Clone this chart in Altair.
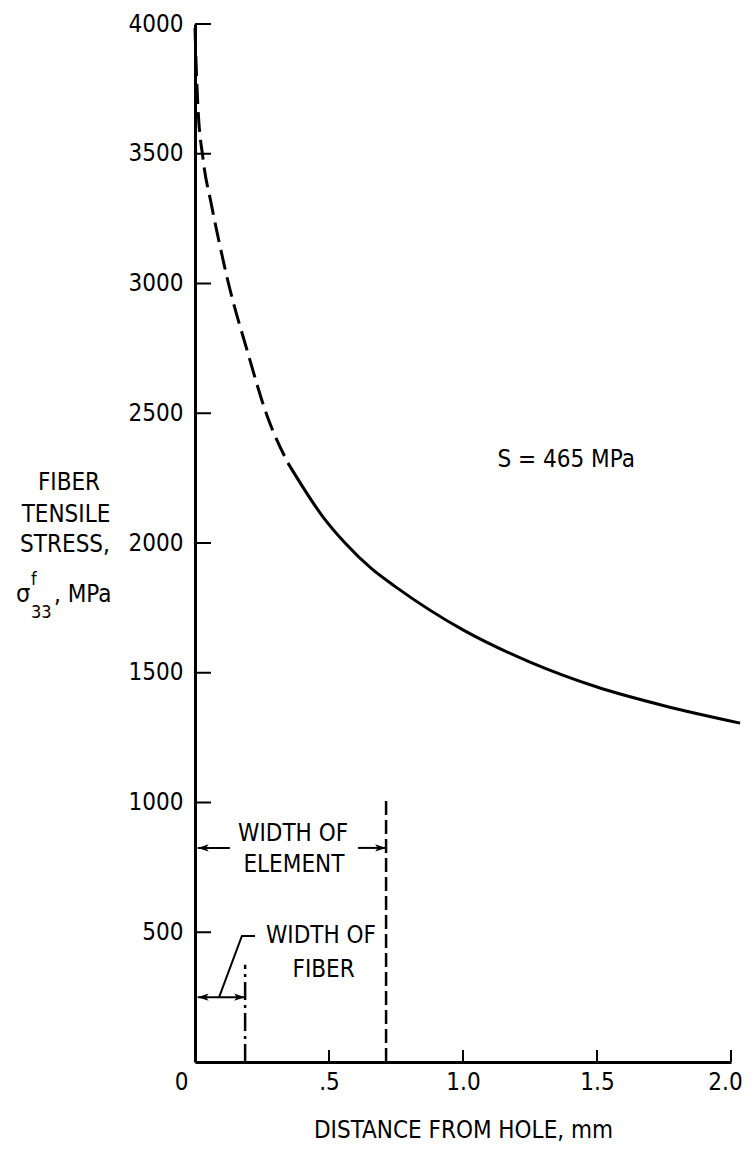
import altair as alt
import pandas as pd

# ---- data ----
dash_x = [0.0, 0.004, 0.01, 0.03, 0.06, 0.09, 0.125, 0.194, 0.269, 0.347]
dash_y = [3985, 3850, 3700, 3480, 3310, 3160, 3000, 2744, 2490, 2308]
solid_x = [0.347, 0.478, 0.56, 0.66, 0.75, 1.0, 1.25, 1.5, 1.75, 2.034]
solid_y = [2308, 2100, 2000, 1900, 1830, 1665, 1541, 1445, 1373, 1306]

x_label_values = [0, 0.5, 1.0, 1.5, 2.0]
x_tick_values = [0.5, 1.0, 1.5, 2.0]
y_tick_values = [500, 1000, 1500, 2000, 2500, 3000, 3500, 4000]

fiber_width = 0.187
element_width = 0.713
fiber_line_top = 375
element_line_top = 1020
element_arrow_level = 825
fiber_arrow_level = 250

FONT = "Liberation Sans Narrow, DejaVu Sans Condensed, Liberation Sans, sans-serif"
FS = 24

xscale = alt.Scale(domain=[0, 2.0], nice=False, zero=False)
yscale = alt.Scale(domain=[0, 4000], nice=False)

xaxis = alt.Axis(
    values=x_label_values,
    labelExpr="datum.value == 0 ? '0' : datum.value == 0.5 ? '.5' : format(datum.value, '.1f')",
    ticks=False, grid=False, domainColor="black", domainWidth=3,
    labelFont=FONT, labelFontSize=FS, labelColor="black", labelPadding=8,
    labelFlush=False, labelOverlap=False, labelBound=False,
    labelOffset={"condition": [{"test": "datum.value == 0", "value": -14},
                               {"test": "datum.value == 2", "value": -6}], "value": 0},
    title="DISTANCE FROM HOLE,  mm", titleFont=FONT, titleFontSize=FS,
    titleFontWeight="normal", titleColor="black", titlePadding=24,
)
yaxis = alt.Axis(
    values=y_tick_values, format="d", ticks=False, grid=False,
    domainColor="black", domainWidth=3,
    labelFont=FONT, labelFontSize=FS, labelColor="black", labelPadding=12,
    labelFlush=False, labelOverlap=False, title=None,
)

X = alt.X("x:Q", scale=xscale, axis=xaxis)
Y = alt.Y("y:Q", scale=yscale, axis=yaxis)

df_dash = pd.DataFrame({"x": dash_x, "y": dash_y})
df_solid = pd.DataFrame({"x": solid_x, "y": solid_y})
df_xt = pd.DataFrame({"x": x_tick_values})
df_yt = pd.DataFrame({"y": y_tick_values})
one = pd.DataFrame({"a": [0]})

curve_dash = alt.Chart(df_dash).mark_line(
    color="black", strokeWidth=3, strokeDash=[20, 8], interpolate="monotone", strokeCap="butt"
).encode(x=X, y=Y)
curve_solid = alt.Chart(df_solid).mark_line(
    color="black", strokeWidth=3, interpolate="monotone"
).encode(x=X, y=Y)

ytick_rules = alt.Chart(df_yt).mark_rule(color="black", strokeWidth=2).encode(
    y=Y, x=alt.value(0), x2=alt.value(16)
)
xtick_rules = alt.Chart(df_xt).mark_rule(color="black", strokeWidth=2).encode(
    x=X, y=alt.value(1038), y2=alt.value(1026)
)

fiber_line = alt.Chart(one).mark_rule(
    color="black", strokeWidth=2.5, strokeDash=[18, 5, 3, 5]
).encode(x=alt.datum(fiber_width), y=alt.datum(0), y2=alt.datum(fiber_line_top))
element_line = alt.Chart(one).mark_rule(
    color="black", strokeWidth=2.5, strokeDash=[14, 5]
).encode(x=alt.datum(element_width), y=alt.datum(0), y2=alt.datum(element_line_top))

# arrows
elem_left = alt.Chart(one).mark_rule(color="black", strokeWidth=2).encode(
    x=alt.datum(0.01), x2=alt.datum(0.13), y=alt.datum(element_arrow_level))
elem_right = alt.Chart(one).mark_rule(color="black", strokeWidth=2).encode(
    x=alt.datum(0.608), x2=alt.datum(element_width), y=alt.datum(element_arrow_level))
fiber_arrow = alt.Chart(one).mark_rule(color="black", strokeWidth=2).encode(
    x=alt.datum(0.01), x2=alt.datum(fiber_width), y=alt.datum(fiber_arrow_level))

LEFT_HEAD = "M0,0 L1,-0.33 L0.75,0 L1,0.33 Z"
RIGHT_HEAD = "M0,0 L-1,-0.33 L-0.75,0 L-1,0.33 Z"

def head(shape, xv, yv):
    return alt.Chart(one).mark_point(
        shape=shape, filled=True, size=484, color="black", opacity=1, strokeWidth=0
    ).encode(x=alt.datum(xv), y=alt.datum(yv))

heads = [
    head(LEFT_HEAD, 0.01, element_arrow_level),
    head(RIGHT_HEAD, element_width, element_arrow_level),
    head(LEFT_HEAD, 0.01, fiber_arrow_level),
    head(RIGHT_HEAD, fiber_width, fiber_arrow_level),
]

leader_df = pd.DataFrame({"x": [0.09, 0.175, 0.224], "y": [250, 486, 486], "o": [0, 1, 2]})
leader = alt.Chart(leader_df).mark_line(color="black", strokeWidth=2).encode(
    x=X, y=Y, order="o:Q")

def label(text, xv, yv, align="center"):
    return alt.Chart(one).mark_text(
        text=text, font=FONT, fontSize=FS, color="black", align=align, baseline="middle"
    ).encode(x=alt.datum(xv), y=alt.datum(yv))

texts = [
    label("WIDTH OF", 0.366, 879),
    label("ELEMENT", 0.369, 759),
    label("WIDTH OF", 0.47, 486),
    label("FIBER", 0.48, 355),
    label("S = 465 MPa", 1.385, 2320),
]

def ptext(text, xp, yp, size=FS, align="center"):
    return alt.Chart(one).mark_text(
        text=text, font=FONT, fontSize=size, color="black", align=align, baseline="alphabetic"
    ).encode(x=alt.value(xp), y=alt.value(yp))

ytitle = [
    ptext("FIBER", -126, 466),
    ptext("TENSILE", -129, 498),
    ptext("STRESS,", -130, 528),
    ptext("σ", -179, 578, size=25, align="left"),
    ptext("f", -164, 561, size=18, align="left"),
    ptext("33", -164, 594, size=18, align="left"),
    ptext(", MPa", -141, 578, align="left"),
]

chart = alt.layer(
    curve_dash, curve_solid, ytick_rules, xtick_rules, fiber_line, element_line,
    elem_left, elem_right, fiber_arrow, *heads, leader, *texts, *ytitle
).properties(
    width=536, height=1038,
    autosize=alt.AutoSizeParams(type="none"),
    padding={"left": 187, "top": 16, "right": 13, "bottom": 82},
    background="white",
).configure_view(stroke=None)

chart.save("out.html", embed_options={"renderer": "svg", "actions": False})
